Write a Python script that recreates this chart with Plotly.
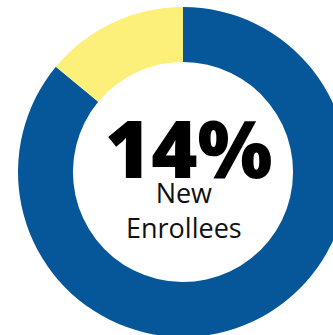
import plotly.graph_objects as go

# Share of enrollees, drawn clockwise from 12 o'clock
labels = ["Returning Enrollees", "New Enrollees"]
values = [86, 14]
colors = ["#06569A", "#FCEF7A"]

headline = f"{values[1]}%"
caption = "New<br>Enrollees"

W, H = 366, 344

fig = go.Figure(
    go.Pie(
        labels=labels,
        values=values,
        hole=0.667,
        sort=False,
        direction="clockwise",
        rotation=0,
        marker=dict(colors=colors, line=dict(width=0)),
        textinfo="none",
        hoverinfo="label+percent",
        domain=dict(x=[18 / W, 348 / W], y=[1 - 337 / H, 1 - 7 / H]),
    )
)

fig.add_annotation(
    text=headline,
    x=189 / W, y=1 - 147 / H, xref="paper", yref="paper",
    xanchor="center", yanchor="middle", showarrow=False,
    font=dict(family="Open Sans ExtraBold, Open Sans", size=79, color="#000000", weight=800),
)
fig.add_annotation(
    text=caption,
    x=184 / W, y=1 - 210 / H, xref="paper", yref="paper",
    xanchor="center", yanchor="middle", showarrow=False,
    font=dict(family="Open Sans", size=27, color="#111111"),
)

fig.update_layout(
    width=W, height=H,
    margin=dict(l=0, r=0, t=0, b=0),
    showlegend=False,
    paper_bgcolor="white",
    plot_bgcolor="white",
)

fig.write_html(
    "out.html",
    config={"displayModeBar": False},
    post_script="document.body.style.margin='0';document.body.style.overflow='hidden';document.documentElement.style.overflow='hidden';",
)
